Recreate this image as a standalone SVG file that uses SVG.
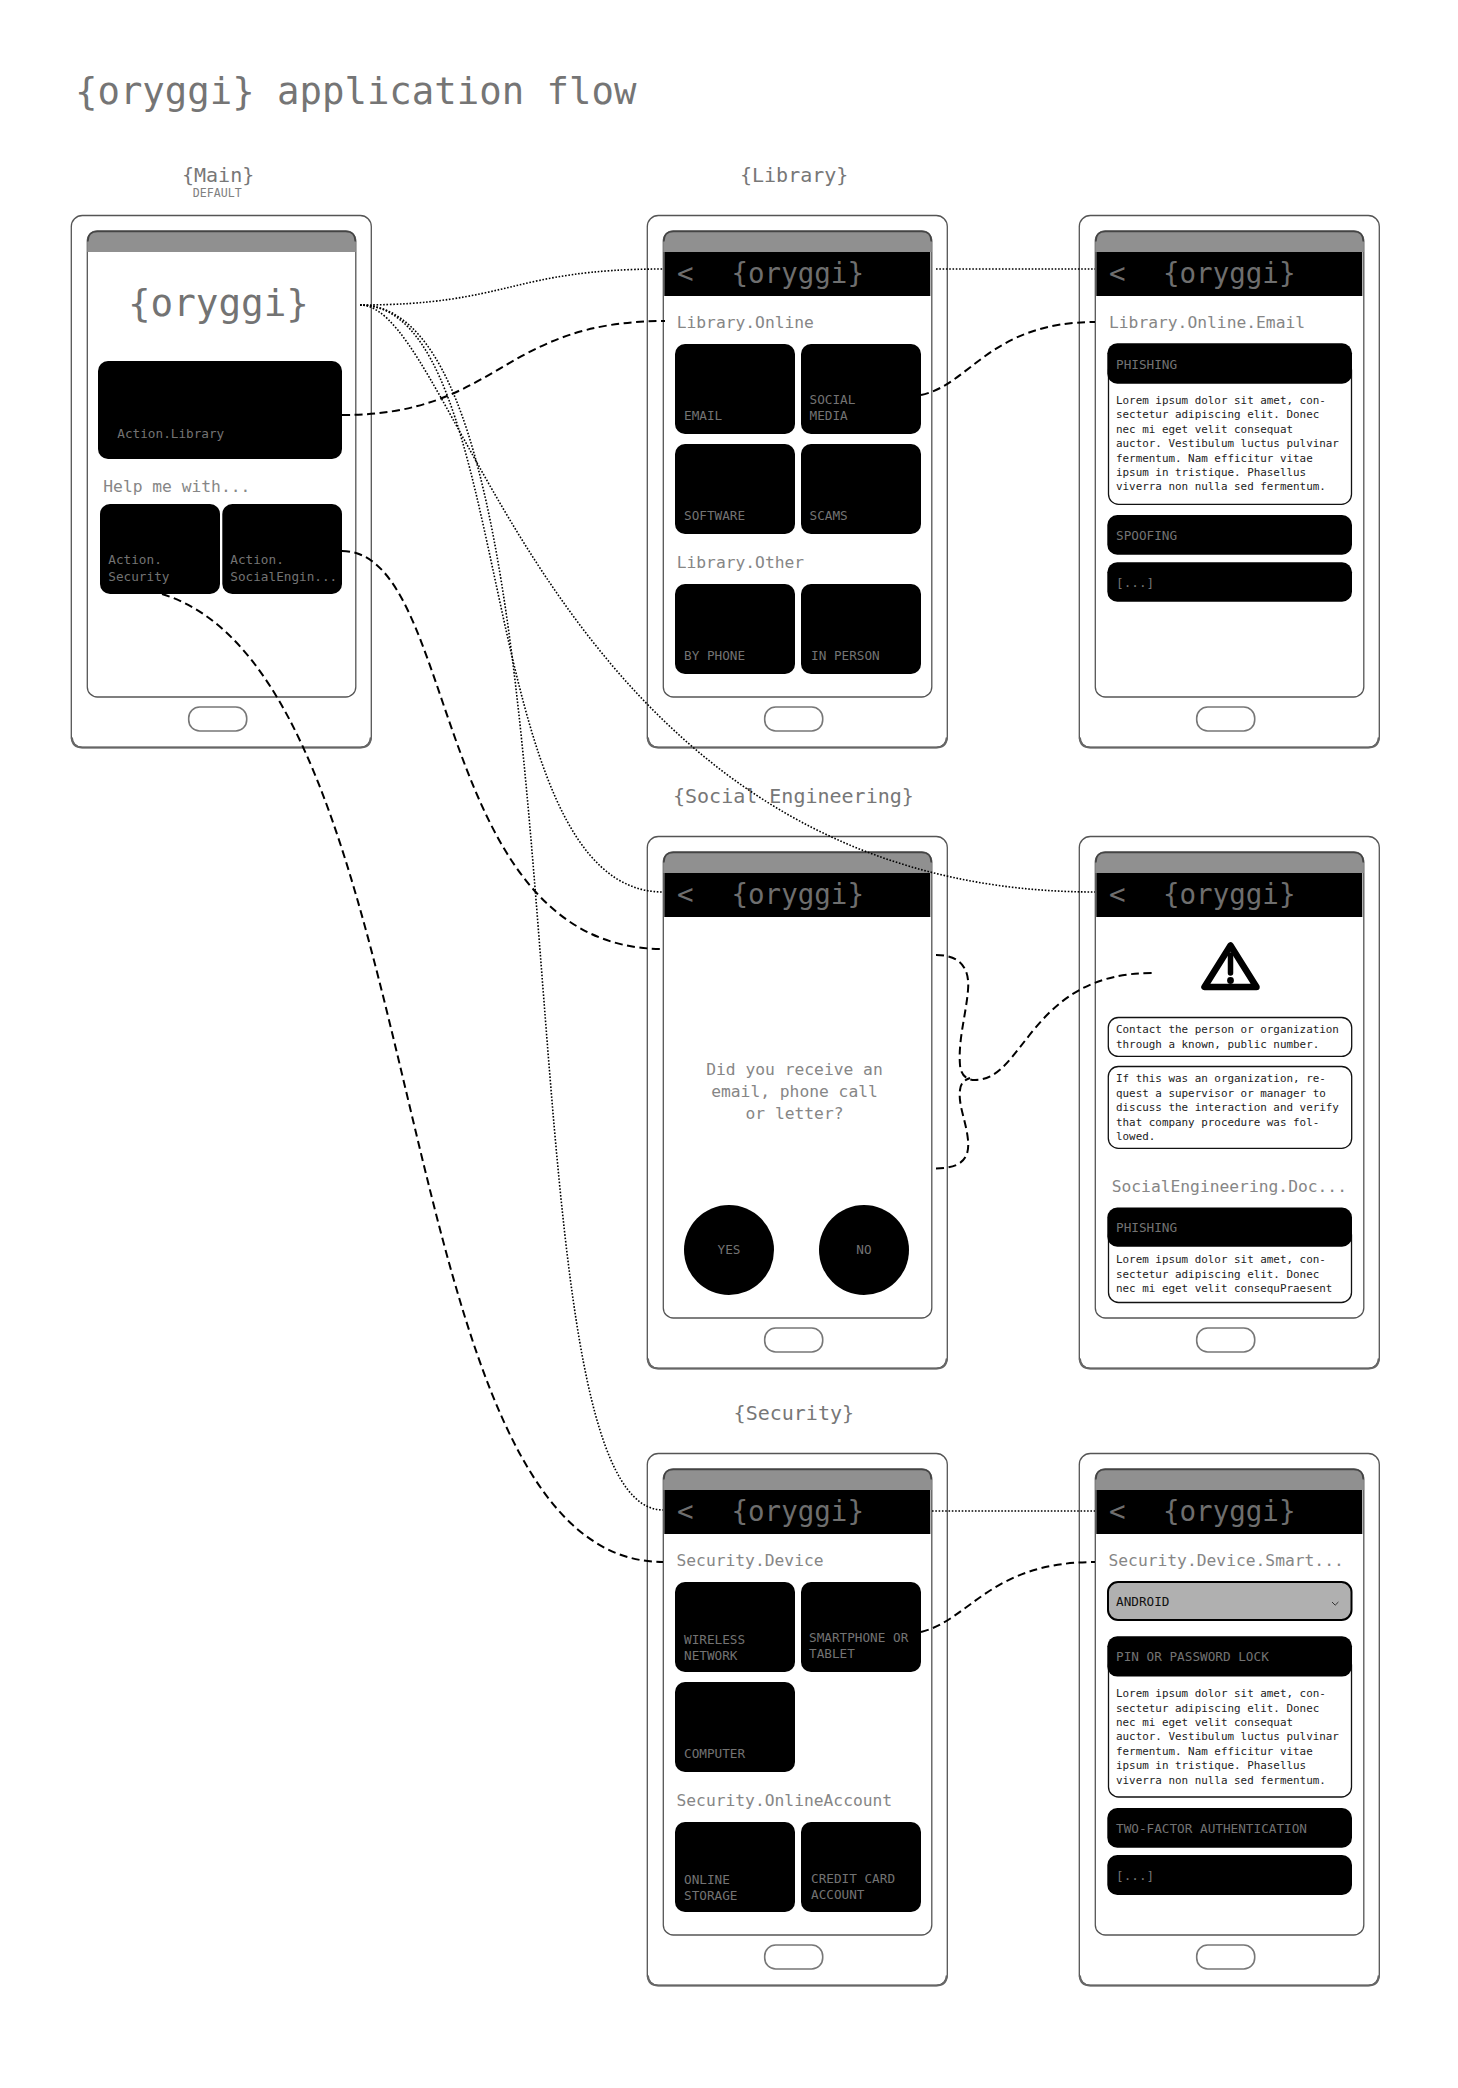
<svg xmlns="http://www.w3.org/2000/svg" width="1458" height="2088" viewBox="0 0 1458 2088">
<style>
text{font-family:"DejaVu Sans Mono","Liberation Mono",monospace}
.outer{fill:#fff;stroke:#555;stroke-width:1.3}
.scr{fill:#fff;stroke:#555;stroke-width:1.3}
.bar{fill:#909090;stroke:none}
.bartop{fill:none;stroke:#444;stroke-width:1.6}
.shadow{fill:none;stroke:#666;stroke-width:2.2}
.home{fill:#fff;stroke:#777;stroke-width:1.6}
.hdr{fill:#000}
.logo{font-size:27.500px;fill:#6e6e6e}
.sec{font-size:16.300px;fill:#868686}
.t{font-size:12.700px;fill:#737373}
.b{fill:#000}
.body{font-size:10.900px;fill:#222}
.pn{fill:#fff;stroke:#111;stroke-width:1.3}
.cap{font-size:20px;fill:#777}
.dot{fill:none;stroke:#000;stroke-width:1.6;stroke-dasharray:1.6 1.7}
.dash{fill:none;stroke:#000;stroke-width:2;stroke-dasharray:8 4.500}
</style>
<defs>
<g id="frame">
<rect class="outer" x="0" y="0" width="300" height="532" rx="11"/>
<path class="shadow" d="M0.500 522Q1 532 11 532H289Q299 532 299.500 522"/>
<rect class="scr" x="16" y="15.500" width="268.500" height="466" rx="10"/>
<path class="bar" d="M16 36.500V25.500Q16 15.500 26 15.500H274.500Q284.500 15.500 284.500 25.500V36.500Z"/>
<path class="bartop" d="M16.500 26Q16.500 16 26 16H274.500Q284 16 284 26"/>
<rect class="home" x="117.400" y="491.500" width="58" height="24" rx="11"/>
</g>
</defs>
<text x="75" y="104" font-size="37.300" fill="#757575">{oryggi} application flow</text>
<text x="182" y="181.500" class="cap">{Main}</text>
<text x="192.800" y="197" font-size="11.600" fill="#808080">DEFAULT</text>
<text x="740" y="181.500" class="cap">{Library}</text>
<text x="673" y="803" class="cap">{Social Engineering}</text>
<text x="733.600" y="1420" class="cap">{Security}</text>

<g id="main">
<use href="#frame" x="71.300" y="215.500"/>
<text x="128" y="315.500" font-size="37.600" fill="#737373">{oryggi}</text>
<rect class="b" x="98" y="361" width="244" height="98" rx="10"/>
<text class="t" x="117.300" y="438">Action.Library</text>
<text class="sec" x="103.300" y="491.700">Help me with...</text>
<rect class="b" x="100" y="504" width="120" height="90" rx="10"/>
<text class="t" x="108.300" y="564">Action.</text><text class="t" x="108.300" y="581">Security</text>
<rect class="b" x="222.300" y="504" width="119.700" height="90" rx="10"/>
<text class="t" x="230.300" y="564">Action.</text><text class="t" x="230.300" y="581">SocialEngin...</text>
</g>

<g id="library">
<use href="#frame" x="647.300" y="215.500"/>
<rect class="hdr" x="664.300" y="252" width="266" height="44"/>
<text class="logo" x="677" y="283">&lt;</text><text class="logo" x="731.500" y="283">{oryggi}</text>
<text class="sec" x="676.700" y="328">Library.Online</text>
<rect class="b" x="675" y="344" width="120" height="90" rx="10"/><text class="t" x="684" y="419.500">EMAIL</text>
<rect class="b" x="801" y="344" width="120" height="90" rx="10"/><text class="t" x="809.500" y="403.500">SOCIAL</text><text class="t" x="809.500" y="420">MEDIA</text>
<rect class="b" x="675" y="444" width="120" height="90" rx="10"/><text class="t" x="684" y="519.500">SOFTWARE</text>
<rect class="b" x="801" y="444" width="120" height="90" rx="10"/><text class="t" x="809.500" y="519.500">SCAMS</text>
<text class="sec" x="676.700" y="568.400">Library.Other</text>
<rect class="b" x="675" y="584" width="120" height="90" rx="10"/><text class="t" x="684" y="659.500">BY PHONE</text>
<rect class="b" x="801" y="584" width="120" height="90" rx="10"/><text class="t" x="811" y="659.500">IN PERSON</text>
</g>

<g id="library-email">
<use href="#frame" x="1079.300" y="215.500"/>
<rect class="hdr" x="1096.300" y="252" width="266" height="44"/>
<text class="logo" x="1109" y="283">&lt;</text><text class="logo" x="1163" y="283">{oryggi}</text>
<text class="sec" x="1109" y="328">Library.Online.Email</text>
<rect class="pn" x="1108.500" y="360" width="243" height="144.300" rx="10"/>
<rect class="b" x="1107.300" y="343.300" width="244.700" height="40.400" rx="10"/>
<text class="t" x="1116" y="368.500">PHISHING</text>
<text class="body" x="1116" y="404">Lorem ipsum dolor sit amet, con-</text>
<text class="body" x="1116" y="418.400">sectetur adipiscing elit. Donec</text>
<text class="body" x="1116" y="432.800">nec mi eget velit consequat</text>
<text class="body" x="1116" y="447.200">auctor. Vestibulum luctus pulvinar</text>
<text class="body" x="1116" y="461.600">fermentum. Nam efficitur vitae</text>
<text class="body" x="1116" y="476">ipsum in tristique. Phasellus</text>
<text class="body" x="1116" y="490.400">viverra non nulla sed fermentum.</text>
<rect class="b" x="1107.300" y="515" width="244.700" height="39.700" rx="10"/>
<text class="t" x="1116" y="540">SPOOFING</text>
<rect class="b" x="1107.300" y="562.300" width="244.700" height="39.400" rx="10"/>
<text class="t" x="1116" y="586.500">[...]</text>
</g>

<g id="social">
<use href="#frame" x="647.300" y="836.500"/>
<rect class="hdr" x="664.300" y="873" width="266" height="44"/>
<text class="logo" x="677" y="904">&lt;</text><text class="logo" x="731.500" y="904">{oryggi}</text>
<text class="sec" x="794.500" y="1075" text-anchor="middle">Did you receive an</text>
<text class="sec" x="794.500" y="1097" text-anchor="middle">email, phone call</text>
<text class="sec" x="794.500" y="1118.500" text-anchor="middle">or letter?</text>
<circle class="b" cx="729" cy="1250" r="45"/><text class="t" x="729" y="1254" text-anchor="middle">YES</text>
<circle class="b" cx="864" cy="1250" r="45"/><text class="t" x="864" y="1254" text-anchor="middle">NO</text>
</g>

<g id="social-doc">
<use href="#frame" x="1079.300" y="836.500"/>
<rect class="hdr" x="1096.300" y="873" width="266" height="44"/>
<text class="logo" x="1109" y="904">&lt;</text><text class="logo" x="1163" y="904">{oryggi}</text>
<path d="M1230.500 945.500L1204.500 987H1256.500Z" fill="#fff" stroke="#000" stroke-width="6.500" stroke-linejoin="round"/>
<path d="M1230.500 955V973" fill="none" stroke="#000" stroke-width="5.500" stroke-linecap="round"/>
<circle cx="1230.500" cy="980.500" r="3.400" fill="#000"/>
<rect class="pn" x="1108.300" y="1017.500" width="243.400" height="38.900" rx="10"/>
<text class="body" x="1116" y="1033.400">Contact the person or organization</text>
<text class="body" x="1116" y="1048">through a known, public number.</text>
<rect class="pn" x="1108.300" y="1066.500" width="243.400" height="81.800" rx="10"/>
<text class="body" x="1116" y="1082.200">If this was an organization, re-</text>
<text class="body" x="1116" y="1096.700">quest a supervisor or manager to</text>
<text class="body" x="1116" y="1111.200">discuss the interaction and verify</text>
<text class="body" x="1116" y="1125.500">that company procedure was fol-</text>
<text class="body" x="1116" y="1140">lowed.</text>
<text class="sec" x="1111.700" y="1192">SocialEngineering.Doc...</text>
<rect class="pn" x="1108.500" y="1225" width="243" height="77.500" rx="10"/>
<rect class="b" x="1107.300" y="1207.500" width="244.700" height="39.200" rx="10"/>
<text class="t" x="1116" y="1232">PHISHING</text>
<text class="body" x="1116" y="1263.200">Lorem ipsum dolor sit amet, con-</text>
<text class="body" x="1116" y="1277.600">sectetur adipiscing elit. Donec</text>
<text class="body" x="1116" y="1292">nec mi eget velit consequPraesent</text>
</g>

<g id="security">
<use href="#frame" x="647.300" y="1453.500"/>
<rect class="hdr" x="664.300" y="1490" width="266" height="44"/>
<text class="logo" x="677" y="1521">&lt;</text><text class="logo" x="731.500" y="1521">{oryggi}</text>
<text class="sec" x="676.500" y="1566.400">Security.Device</text>
<rect class="b" x="675" y="1582" width="120" height="90" rx="10"/><text class="t" x="684" y="1643.500">WIRELESS</text><text class="t" x="684" y="1660">NETWORK</text>
<rect class="b" x="801" y="1582" width="120" height="90" rx="10"/><text class="t" x="809" y="1641.800">SMARTPHONE OR</text><text class="t" x="809" y="1658">TABLET</text>
<rect class="b" x="675" y="1682" width="120" height="90" rx="10"/><text class="t" x="684" y="1757.500">COMPUTER</text>
<text class="sec" x="676.500" y="1806.400">Security.OnlineAccount</text>
<rect class="b" x="675" y="1822" width="120" height="90" rx="10"/><text class="t" x="684" y="1883.600">ONLINE</text><text class="t" x="684" y="1900.400">STORAGE</text>
<rect class="b" x="801" y="1822" width="120" height="90" rx="10"/><text class="t" x="811" y="1882.500">CREDIT CARD</text><text class="t" x="811" y="1899">ACCOUNT</text>
</g>

<g id="security-smartphone">
<use href="#frame" x="1079.300" y="1453.500"/>
<rect class="hdr" x="1096.300" y="1490" width="266" height="44"/>
<text class="logo" x="1109" y="1521">&lt;</text><text class="logo" x="1163" y="1521">{oryggi}</text>
<text class="sec" x="1108.500" y="1566.400">Security.Device.Smart...</text>
<rect x="1108" y="1582" width="243.500" height="38" rx="10" fill="#b0b0b0" stroke="#000" stroke-width="2"/>
<text class="t" x="1116" y="1605.600" style="fill:#111">ANDROID</text>
<path d="M1332 1602l3.200 3.200 3.200-3.200" fill="none" stroke="#333" stroke-width="1"/>
<rect class="pn" x="1108.500" y="1655" width="243" height="142" rx="10"/>
<rect class="b" x="1107.300" y="1636.300" width="244.700" height="40.300" rx="10"/>
<text class="t" x="1116" y="1660.800">PIN OR PASSWORD LOCK</text>
<text class="body" x="1116" y="1697.200">Lorem ipsum dolor sit amet, con-</text>
<text class="body" x="1116" y="1711.600">sectetur adipiscing elit. Donec</text>
<text class="body" x="1116" y="1726">nec mi eget velit consequat</text>
<text class="body" x="1116" y="1740.400">auctor. Vestibulum luctus pulvinar</text>
<text class="body" x="1116" y="1754.800">fermentum. Nam efficitur vitae</text>
<text class="body" x="1116" y="1769.200">ipsum in tristique. Phasellus</text>
<text class="body" x="1116" y="1783.600">viverra non nulla sed fermentum.</text>
<rect class="b" x="1107.300" y="1808" width="244.700" height="39.700" rx="10"/>
<text class="t" x="1116" y="1832.500">TWO-FACTOR AUTHENTICATION</text>
<rect class="b" x="1107.300" y="1855" width="244.700" height="40" rx="10"/>
<text class="t" x="1116" y="1879.500">[...]</text>
</g>

<g id="connectors">
<path class="dot" d="M360 305C510 305 510 269 663 269"/>
<path class="dot" d="M360 305C520 305 470 892 663 892"/>
<path class="dot" d="M360 305C600 305 490 1510 663 1510"/>
<path class="dot" d="M360 305C460 305 550 892 1095 892"/>
<path class="dot" d="M936 269H1095"/>
<path class="dot" d="M932 1511H1095"/>
<path class="dash" d="M342 415C500 415 500 321 665 321"/>
<path class="dash" d="M921 395C970 385 990 322 1095 322"/>
<path class="dash" d="M342 551C460 551 430 949 663 949"/>
<path class="dash" d="M162 594C440 680 380 1562 663 1562"/>
<path class="dash" d="M921 1632C970 1620 990 1562 1095 1562"/>
<path class="dash" d="M936 955C960 955 970 968 968 990C966 1015 958 1040 960 1065C961 1077 968 1080 975 1080C1025 1080 1030 973 1152 973"/>
<path class="dash" d="M936 1168.600C960 1168 970 1160 968 1140C966 1120 958 1105 960 1090C961 1082 965 1080 970 1078"/>
</g>
</svg>
